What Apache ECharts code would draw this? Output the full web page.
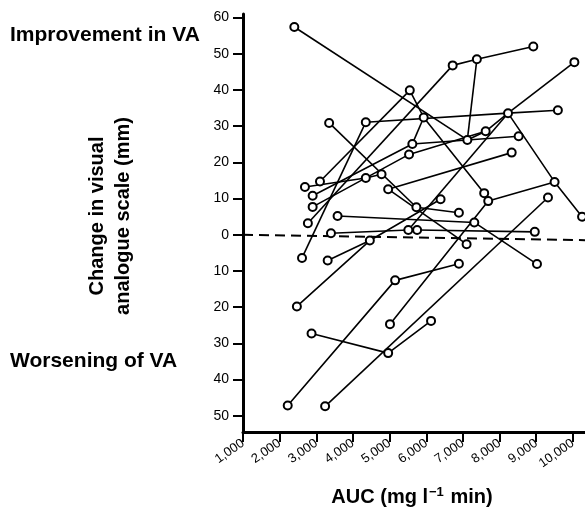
<!DOCTYPE html>
<html>
<head>
<meta charset="utf-8">
<script src="https://cdn.jsdelivr.net/npm/echarts@6/dist/echarts.min.js"></script>
<style>
html,body{margin:0;padding:0;background:#fff;}
#chart{width:585px;height:510px;}
</style>
</head>
<body>
<div id="chart"></div>
<script>
// Tick values
const xTicks = [1000, 2000, 3000, 4000, 5000, 6000, 7000, 8000, 9000, 10000];
const yTicks = [-50, -40, -30, -20, -10, 0, 10, 20, 30, 40, 50, 60];

// Patient tracks: [AUC, change in VAS]
const s01 = [[2400, 57.4], [7120, 26.2]];
const s02 = [[6720, 46.8], [7380, 48.5], [8920, 52.0]];
const s03 = [[7380, 48.5], [7120, 26.2]];
const s04 = [[4350, 31.1], [8230, 33.6], [9590, 34.4]];
const s05 = [[8230, 33.6], [10040, 47.7]];
const s06 = [[8230, 33.6], [9500, 14.6], [10250, 5.0]];
const s07 = [[5010, -24.7], [7690, 9.3], [9500, 14.6]];
const s08 = [[5550, 39.9], [5930, 32.4], [7580, 11.5]];
const s09 = [[5930, 32.4], [5620, 25.1]];
const s10 = [[2900, 10.8], [5620, 25.1], [8520, 27.2]];
const s11 = [[2900, 7.7], [5530, 22.2], [7620, 28.6]];
const s12 = [[7120, 26.2], [7620, 28.6], [8230, 33.6]];
const s13 = [[3100, 14.7], [5550, 39.9]];
const s14 = [[2610, -6.4], [4350, 31.1]];
const s15 = [[3350, 30.9], [5730, 7.6]];
const s16 = [[4960, 12.6], [8330, 22.7]];
const s17 = [[5730, 7.6], [6890, 6.1]];
const s18 = [[3400, 0.4], [5510, 1.3]];
const s19 = [[5750, 1.3], [8960, 0.8]];
const s20 = [[2220, -47.2], [5150, -12.6], [6890, -8.0]];
const s21 = [[3240, -47.4], [9320, 10.3]];
const s22 = [[2870, -27.3], [4960, -32.7], [6130, -23.8]];
const s23 = [[2470, -19.8], [4460, -1.6], [6390, 9.8]];
const s24 = [[3310, -7.1], [4460, -1.6]];
const s25 = [[8230, 33.6], [5510, 1.3]];
const s26 = [[6720, 46.8], [2770, 3.2]];
const s27 = [[2690, 13.2], [4350, 15.7], [4780, 16.7]];
const s28 = [[4960, 12.6], [7100, -2.6]];
const s29 = [[3580, 5.2], [7310, 3.4], [9020, -8.1]];

const zeroLine = [[1000, 0], [10330, -1.5]];

const tracks = [s01,s02,s03,s04,s05,s06,s07,s08,s09,s10,s11,s12,s13,s14,s15,
                s16,s17,s18,s19,s20,s21,s22,s23,s24,s25,s26,s27,s28,s29];

// unique points for the circles
const seen = {};
const points = [];
tracks.forEach(t => t.forEach(p => {
  const k = p[0] + '_' + p[1];
  if (!seen[k]) { seen[k] = 1; points.push(p); }
}));

const FONT = '"Liberation Sans", Arial, Helvetica, sans-serif';

const series = [];
series.push({
  type: 'line', data: zeroLine, showSymbol: false, silent: true, z: 1,
  lineStyle: { color: '#000', width: 2, type: [10, 6] }
});
tracks.forEach(t => series.push({
  type: 'line', data: t, showSymbol: false, silent: true, z: 2,
  lineStyle: { color: '#000', width: 1.6 }
}));
series.push({
  type: 'scatter', data: points, symbol: 'circle', symbolSize: 8, z: 5, silent: true,
  itemStyle: { color: '#fff', borderColor: '#000', borderWidth: 2, opacity: 1 }
});

const chart = echarts.init(document.getElementById('chart'), null, { renderer: 'canvas' });
chart.setOption({
  animation: false,
  backgroundColor: '#fff',
  grid: { left: 243, top: 14, width: 342, height: 418, containLabel: false },
  xAxis: {
    type: 'value', min: 1000, max: 10330,
    axisLine: { show: true, onZero: false, lineStyle: { color: '#000', width: 3 } },
    axisTick: { show: true, length: 10, customValues: xTicks, lineStyle: { color: '#000', width: 2 } },
    axisLabel: {
      customValues: xTicks, rotate: 35, margin: 10, color: '#000', fontSize: 13, fontFamily: FONT,
      formatter: v => v.toLocaleString('en-US')
    },
    splitLine: { show: false }
  },
  yAxis: {
    type: 'value', min: -54.5, max: 61,
    axisLine: { show: true, onZero: false, lineStyle: { color: '#000', width: 3 } },
    axisTick: { show: true, length: 10, customValues: yTicks, lineStyle: { color: '#000', width: 2 } },
    axisLabel: {
      customValues: yTicks, margin: 14, color: '#000', fontSize: 14, fontFamily: FONT,
      formatter: v => String(Math.abs(v))
    },
    splitLine: { show: false }
  },
  graphic: [
    { type: 'text', left: 10, top: 25, silent: true,
      style: { text: 'Improvement in VA', font: 'bold 21px ' + FONT, fill: '#000' } },
    { type: 'text', left: 10, top: 351, silent: true,
      style: { text: 'Worsening of VA', font: 'bold 21px ' + FONT, fill: '#000' } },
    { type: 'text', x: 110, y: 216, rotation: Math.PI / 2, silent: true,
      style: { text: 'Change in visual\nanalogue scale (mm)', font: 'bold 20px ' + FONT,
               fill: '#000', align: 'center', verticalAlign: 'middle', lineHeight: 26 } },
    { type: 'text', x: 412, y: 497, silent: true,
      style: { text: 'AUC (mg l{sup|\u22121} min)', font: 'bold 20px ' + FONT, fill: '#000',
               align: 'center', verticalAlign: 'middle',
               rich: { sup: { font: 'bold 13px ' + FONT, fill: '#000', padding: [0, 1, 10, 1] } } } }
  ],
  series: series
});
</script>
</body>
</html>
